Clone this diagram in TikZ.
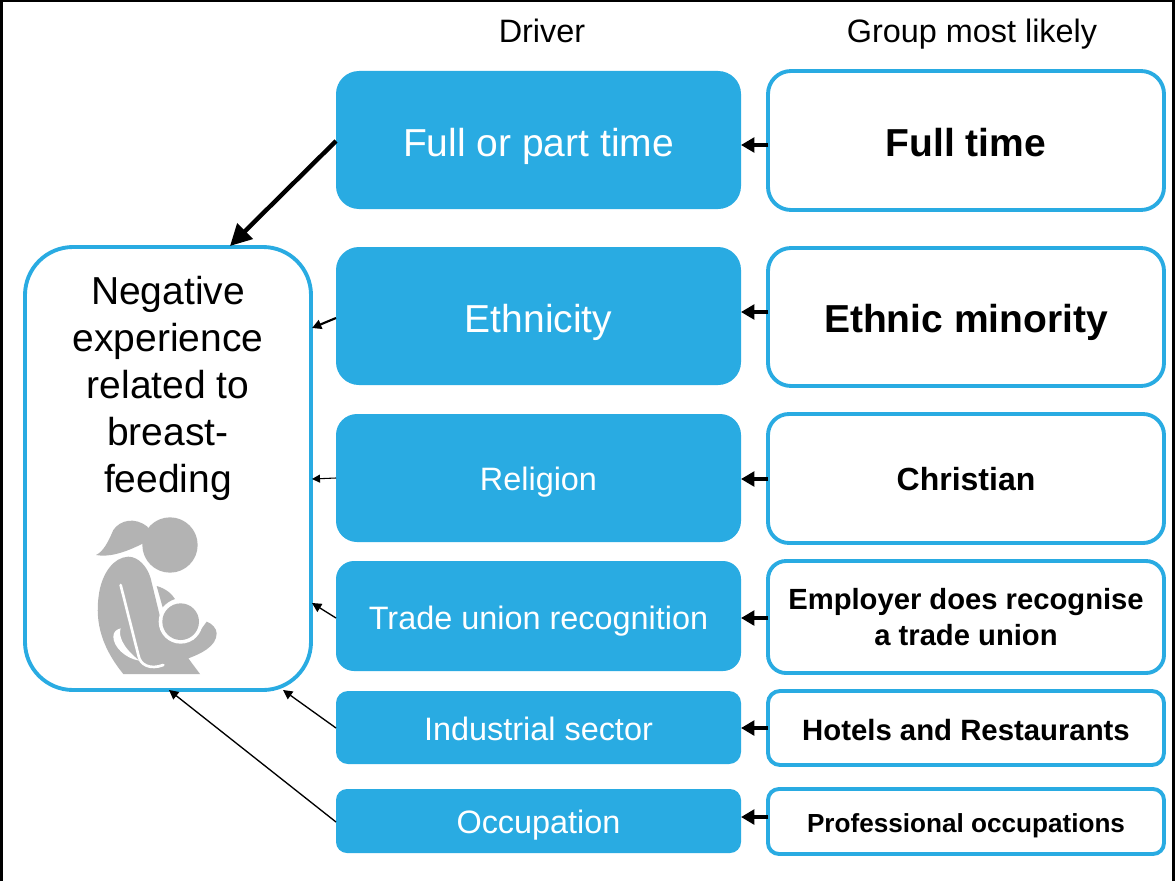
\documentclass[tikz,border=0pt]{standalone}
\usepackage{fontspec}
\setmainfont{Liberation Sans}
\usetikzlibrary{arrows.meta}
\definecolor{skyb}{HTML}{29ABE2}
\definecolor{icong}{HTML}{B3B3B3}
\tikzset{
  x=0.75pt,y=-0.75pt,
  dbox/.style n args={2}{draw=none,fill=skyb,text=white,align=center,inner sep=0pt,outer sep=0pt,
    minimum width=405*0.75pt,minimum height=#1*0.75pt,rounded corners=#2*0.75pt},
  gbox/.style n args={2}{draw=skyb,line width=2.9pt,fill=white,text=black,align=center,inner sep=0pt,outer sep=0pt,
    minimum width=396*0.75pt,minimum height=#1*0.75pt,rounded corners=#2*0.75pt},
  bl/.style={text height=#1*0.75pt,text depth=0pt},
  head/.style={text=black,inner sep=0pt,font=\fontsize{24.3}{28}\selectfont,bl=22},
  fat/.style={line width=3.3pt,-{Triangle[length=16pt,width=16pt]}},
  mid/.style={line width=2.6pt,-{Triangle[length=10pt,width=11pt]}},
  slim/.style={line width=1.6pt,-{Triangle[length=7pt,width=7pt]}},
  fine/.style={line width=1pt,-{Triangle[length=7pt,width=7pt]}},
  hair/.style={line width=0.8pt,-{Triangle[length=6pt,width=6pt]}},
}
\begin{document}
\begin{tikzpicture}
\useasboundingbox (0,0) rectangle (1176,881);
\fill[white] (0,0) rectangle (1176,881);
% frame
\draw[black,line width=1.6pt] (1.5,881) -- (1.5,0.8) -- (1173.5,0.8) -- (1173.5,881);

\node[head] (h1) at (542,32) {Driver};
\node[head] (h2) at (972,32) {Group most likely};

% driver boxes
\node[dbox={138}{23},bl=32,font=\fontsize{29.25}{34}\selectfont] (d1) at (538.5,140) {Full or part time};
\node[dbox={138}{23},bl=32,font=\fontsize{29.25}{34}\selectfont] (d2) at (538.5,316) {Ethnicity};
\node[dbox={128}{21},bl=24,font=\fontsize{24.3}{28}\selectfont] (d3) at (538.5,478) {Religion};
\node[dbox={110}{18},bl=26,font=\fontsize{24.3}{28}\selectfont] (d4) at (538.5,616) {Trade union recognition};
\node[dbox={73}{12},bl=25,font=\fontsize{24.3}{28}\selectfont] (d5) at (538.5,727.5) {Industrial sector};
\node[dbox={64}{11},bl=24,font=\fontsize{24.3}{28}\selectfont] (d6) at (538.5,821) {Occupation};

% group boxes
\node[gbox={139}{23},bl=31,font=\fontsize{29.25}{34}\bfseries\selectfont] (g1) at (966,140.5) {Full time};
\node[gbox={138}{23},bl=30,font=\fontsize{29.25}{34}\bfseries\selectfont] (g2) at (966,317) {Ethnic minority};
\node[gbox={129}{21},bl=23,font=\fontsize{24}{28}\bfseries\selectfont] (g3) at (966,478.5) {Christian};
\node[gbox={112}{18},font=\fontsize{21.9}{26.5}\bfseries\selectfont] (g4) at (966,617) {Employer does recognise\\a trade union};
\node[gbox={74}{12},bl=24,font=\fontsize{22}{26}\bfseries\selectfont] (g5) at (966,728) {Hotels and Restaurants};
\node[gbox={65}{11},bl=21,font=\fontsize{19.6}{23}\bfseries\selectfont] (g6) at (966,821.5) {Professional occupations};

% outcome box
\node[draw=skyb,line width=2.9pt,fill=white,inner sep=0pt,outer sep=0pt,minimum width=286*0.75pt,minimum height=443*0.75pt,rounded corners=48*0.75pt] (neg) at (168,468.5) {};
\node[text=black,align=center,inner sep=0pt,anchor=north,font=\fontsize{29.25}{35.2}\selectfont] (negt) at (168,276) {Negative\\experience\\related to\\breast-\\feeding};

% icon
\begin{scope}[shift={(60,500)},x=0.25pt,y=-0.25pt]
  \fill[icong] (330,135) circle (83*0.25pt);
  \fill[icong] (262,80) .. controls (225,50) and (180,60) .. (160,90)
     .. controls (145,125) and (130,155) .. (108,165)
     .. controls (145,172) and (190,160) .. (250,130) -- (275,100) -- cycle;
  \fill[icong] (205,170) .. controls (160,172) and (128,220) .. (118,275)
     .. controls (105,350) and (115,430) .. (190,522) -- (420,522) -- (385,475)
     .. controls (420,462) and (470,440) .. (470,400)
     .. controls (470,385) and (455,370) .. (440,365) -- (400,420) -- (320,410)
     -- (300,350) -- (272,235) .. controls (262,200) and (235,170) .. (205,170) -- cycle;
  \fill[icong] (290,258) .. controls (315,265) and (335,280) .. (345,297) .. controls (330,302) and (318,310) .. (308,322) -- cycle;
  \draw[white,line width=2pt,line cap=round] (182,255) -- (235,465) .. controls (240,495) and (270,510) .. (310,495);
  \fill[white] (160,410) .. controls (160,395) and (170,388) .. (182,385) .. controls (175,405) and (185,440) .. (238,482) .. controls (195,475) and (160,440) .. (160,410) -- cycle;
  \fill[white] (362,365) circle (66*0.25pt);
  \fill[icong] (362,365) circle (55*0.25pt);
\end{scope}

% arrows driver -> outcome
\coordinate (n1) at (230,246);
\coordinate (n2) at (312,328);
\coordinate (n3) at (312,479);
\coordinate (n4) at (312,603);
\coordinate (n5) at (283,690);
\coordinate (n6) at (169,690);
\draw[fat] (d1.west |- 0,141) -- (n1);
\draw[slim] (d2.west |- 0,318) -- (n2);
\draw[hair] (d3.west |- 0,478) -- (n3);
\draw[fine] (d4.west |- 0,618) -- (n4);
\draw[fine] (d5.west |- 0,728) -- (n5);
\draw[fine] (d6.west |- 0,822) -- (n6);

% arrows group -> driver
\draw[mid] (g1.west |- 0,145) -- (d1.east |- 0,145);
\draw[mid] (g2.west |- 0,312) -- (d2.east |- 0,312);
\draw[mid] (g3.west |- 0,479) -- (d3.east |- 0,479);
\draw[mid] (g4.west |- 0,618) -- (d4.east |- 0,618);
\draw[mid] (g5.west |- 0,728) -- (d5.east |- 0,728);
\draw[mid] (g6.west |- 0,817) -- (d6.east |- 0,817);
\end{tikzpicture}
\end{document}
